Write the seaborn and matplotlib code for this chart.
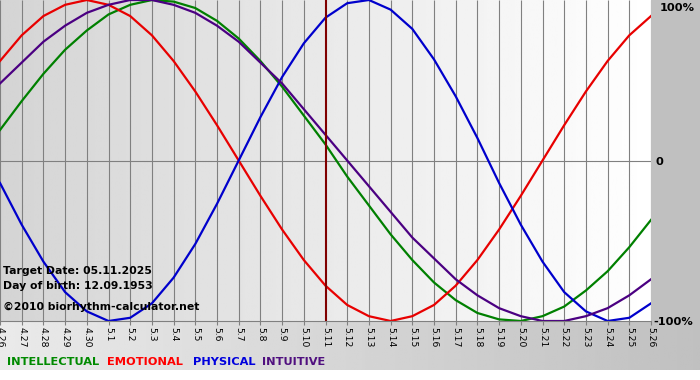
import numpy as np
import pandas as pd
import seaborn as sns
import matplotlib.pyplot as plt
from matplotlib.patches import Rectangle

# day labels on the x axis (month.day)
days = ['4.26', '4.27', '4.28', '4.29', '4.30', '5.1', '5.2', '5.3', '5.4', '5.5',
        '5.6', '5.7', '5.8', '5.9', '5.10', '5.11', '5.12', '5.13', '5.14', '5.15',
        '5.16', '5.17', '5.18', '5.19', '5.20', '5.21', '5.22', '5.23', '5.24', '5.25',
        '5.26']
target_day = '5.11'

# values, one per day (-1 .. 1)
intellectual = [0.19, 0.37, 0.54, 0.69, 0.81, 0.91, 0.97, 1.00, 0.99, 0.95,
                0.87, 0.76, 0.62, 0.46, 0.28, 0.10, -0.10, -0.28, -0.46, -0.62,
                -0.76, -0.87, -0.95, -0.99, -1.00, -0.97, -0.91, -0.81, -0.69, -0.54,
                -0.37]
emotional = [0.62, 0.78, 0.90, 0.97, 1.00, 0.97, 0.90, 0.78, 0.62, 0.43,
             0.22, 0.00, -0.22, -0.43, -0.62, -0.78, -0.90, -0.97, -1.00, -0.97,
             -0.90, -0.78, -0.62, -0.43, -0.22, 0.00, 0.22, 0.43, 0.62, 0.78,
             0.90]
physical = [-0.14, -0.40, -0.63, -0.82, -0.94, -1.00, -0.98, -0.89, -0.73, -0.52,
            -0.27, 0.00, 0.27, 0.52, 0.73, 0.89, 0.98, 1.00, 0.94, 0.82,
            0.63, 0.40, 0.14, -0.14, -0.40, -0.63, -0.82, -0.94, -1.00, -0.98,
            -0.89]
intuitive = [0.48, 0.61, 0.74, 0.84, 0.92, 0.97, 1.00, 1.00, 0.97, 0.92,
             0.84, 0.74, 0.61, 0.48, 0.32, 0.16, 0.00, -0.16, -0.32, -0.48,
             -0.61, -0.74, -0.84, -0.92, -0.97, -1.00, -1.00, -0.97, -0.92, -0.84,
             -0.74]

cycles = ['INTELLECTUAL', 'EMOTIONAL', 'PHYSICAL', 'INTUITIVE']
line_colors = {'INTELLECTUAL': '#008000', 'EMOTIONAL': '#e80000',
               'PHYSICAL': '#0000cc', 'INTUITIVE': '#4b0082'}
label_colors = {'INTELLECTUAL': '#008a00', 'EMOTIONAL': '#ff0000',
                'PHYSICAL': '#0000dd', 'INTUITIVE': '#50107f'}

frames = []
for name, vals in zip(cycles, [intellectual, emotional, physical, intuitive]):
    frames.append(pd.DataFrame({'day': np.arange(len(days)), 'value': vals, 'cycle': name}))
df = pd.concat(frames, ignore_index=True)

W, H = 700, 380
fig = plt.figure(figsize=(7, 3.8), dpi=100)
fig.patch.set_facecolor('white')

# background layer in pixel coords
bg = fig.add_axes([0, 0, 1, 1])
bg.axis('off')
band = np.linspace(234, 192, 256).reshape(1, -1)
bg.imshow(band, cmap='gray', vmin=0, vmax=255, extent=(0, W, 370, 321), aspect='auto')
bg.add_patch(Rectangle((651, 0), W - 651, 321, color='#c0c0c0', lw=0))
bg.set_xlim(0, W)
bg.set_ylim(H, 0)

plot_bottom = 321
ax = fig.add_axes([0, 1 - plot_bottom / H, 651 / W, plot_bottom / H])
ax.set_facecolor('none')
grad = np.linspace(212, 255, 256).reshape(1, -1)
ax.imshow(grad, cmap='gray', vmin=0, vmax=255, extent=(0, len(days) - 1, -1, 1),
          aspect='auto', zorder=0)

# day grid, skipping the target day (the marker line sits there)
grid_x = [i for i, d in enumerate(days) if d != target_day]
ax.vlines(grid_x, -1, 1, color='#808080', lw=0.8, zorder=1)
ax.axhline(0, color='#808080', lw=0.8, zorder=1)

sns.lineplot(data=df, x='day', y='value', hue='cycle', palette=line_colors,
             hue_order=cycles, legend=False, linewidth=1.6, ax=ax, zorder=2)

ax.axvline(days.index(target_day), color='#800000', lw=1.5, zorder=3)

ax.set_xlim(0, len(days) - 1)
ax.set_ylim(-1, 1)
ax.set_xticks(np.arange(len(days)))
ax.set_xticklabels(days, rotation=-90, fontsize=6.7)
ax.tick_params(axis='x', length=3, color='#808080', pad=1)
ax.set_yticks([])
ax.set_xlabel('')
ax.set_ylabel('')
for s in ['top', 'left', 'right']:
    ax.spines[s].set_visible(False)
ax.spines['bottom'].set_color('#808080')
ax.spines['bottom'].set_linewidth(0.8)

def px(x, y):
    return x / W, 1 - y / H

fig.text(*px(660, 8), '100%', fontsize=8.2, fontweight='bold', va='center', ha='left')
fig.text(*px(656, 162), '0', fontsize=8.2, fontweight='bold', va='center', ha='left')
fig.text(*px(653, 322), '-100%', fontsize=8.2, fontweight='bold', va='center', ha='left')

fig.text(*px(3, 271), 'Target Date: 05.11.2025', fontsize=7.8, fontweight='bold', va='center')
fig.text(*px(3, 286), 'Day of birth: 12.09.1953', fontsize=7.8, fontweight='bold', va='center')
fig.text(*px(3, 307), '\u00a92010 biorhythm-calculator.net', fontsize=7.8, fontweight='bold', va='center')

legend_x = [7, 107, 193, 262]
for name, lx in zip(cycles, legend_x):
    fig.text(*px(lx, 362), name, fontsize=8.2, fontweight='bold', va='center',
             color=label_colors[name])

fig.savefig('out.png', dpi=100)
